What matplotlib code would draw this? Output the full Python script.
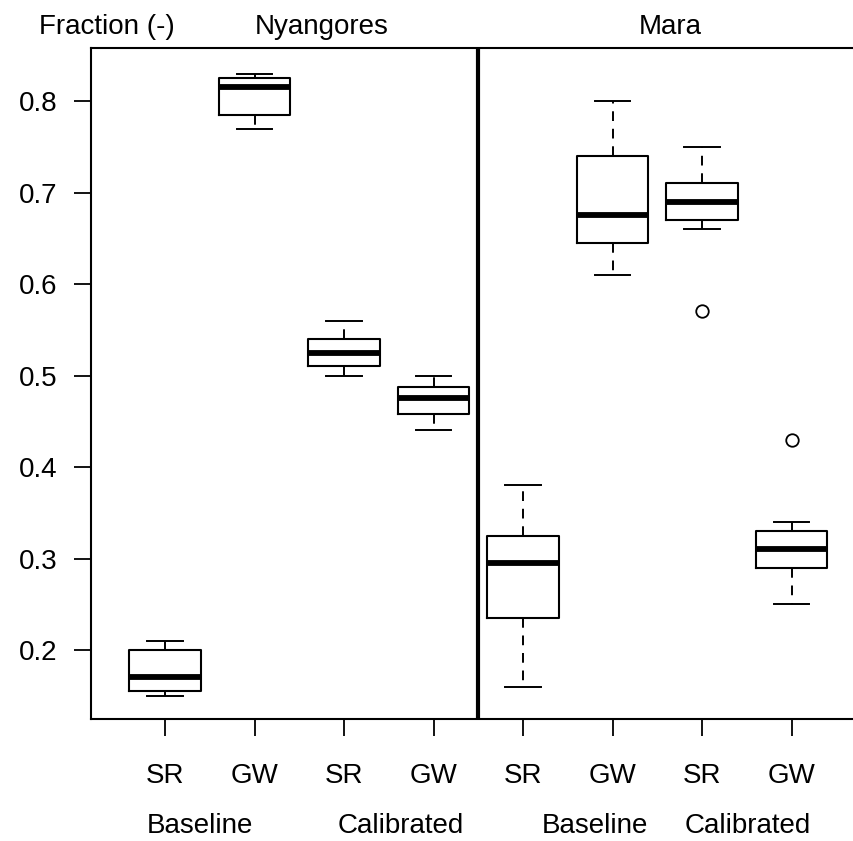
import matplotlib
matplotlib.use("Agg")
import matplotlib.pyplot as plt

plt.rcParams['font.family'] = ['Liberation Sans', 'DejaVu Sans']

# five-number summaries per box: low whisker, Q1, median, Q3, high whisker
tick_labels = ["SR", "GW", "SR", "GW", "SR", "GW", "SR", "GW"]
whisker_lo = [0.15, 0.77, 0.50, 0.44, 0.16, 0.61, 0.66, 0.25]
q1 = [0.155, 0.785, 0.51, 0.458, 0.235, 0.645, 0.67, 0.29]
medians = [0.17, 0.815, 0.525, 0.475, 0.295, 0.675, 0.69, 0.31]
q3 = [0.20, 0.825, 0.54, 0.488, 0.325, 0.74, 0.71, 0.33]
whisker_hi = [0.21, 0.83, 0.56, 0.50, 0.38, 0.80, 0.75, 0.34]
outliers = [[], [], [], [], [], [], [0.57], [0.43]]

catchments = ["Nyangores", "Mara"]
runs = ["Baseline", "Calibrated", "Baseline", "Calibrated"]

stats = []
for i in range(len(tick_labels)):
    stats.append(dict(whislo=whisker_lo[i], q1=q1[i], med=medians[i],
                      q3=q3[i], whishi=whisker_hi[i], fliers=outliers[i]))

positions = list(range(1, len(tick_labels) + 1))

fig = plt.figure(figsize=(8.54, 8.41), dpi=100)
ax = fig.add_axes([91 / 854, 1 - 719 / 841, 1 - 91 / 854 + 0.01, (719 - 48) / 841])

ax.bxp(stats, positions=positions, widths=0.8, capwidths=0.4,
       boxprops=dict(color="black", linewidth=1.5),
       medianprops=dict(color="black", linewidth=4.2, solid_capstyle="butt"),
       whiskerprops=dict(color="black", linewidth=1.4, linestyle=(0, (5, 4))),
       capprops=dict(color="black", linewidth=1.4),
       flierprops=dict(marker="o", markerfacecolor="none", markeredgecolor="black",
                       markersize=9, markeredgewidth=1.3))

# divider between the two catchments
ax.axvline(4.5, color="black", linewidth=3)

ax.set_xlim(0.173, 8.793)
ax.set_ylim(0.1246, 0.858)
ax.set_yticks([0.2, 0.3, 0.4, 0.5, 0.6, 0.7, 0.8])
ax.set_yticklabels(["0.2", "0.3", "0.4", "0.5", "0.6", "0.7", "0.8"])
ax.set_xticks(positions)
ax.set_xticklabels(tick_labels)
ax.tick_params(axis="both", direction="out", length=12, width=1.3,
               labelsize=20, color="black")
ax.tick_params(axis="x", pad=20)
ax.tick_params(axis="y", pad=12)
for s in ax.spines.values():
    s.set_linewidth(1.5)
ax.spines["right"].set_visible(False)

ax.text(0.35, 1.0 + 21 / 671, "Fraction (-)", transform=ax.get_xaxis_transform(),
        ha="center", va="center", fontsize=20)
ax.text(2.75, 1.0 + 21 / 671, catchments[0], transform=ax.get_xaxis_transform(),
        ha="center", va="center", fontsize=20)
ax.text(6.65, 1.0 + 21 / 671, catchments[1], transform=ax.get_xaxis_transform(),
        ha="center", va="center", fontsize=20)

for x, lab in zip([1.39, 3.63, 5.80, 7.51], runs):
    ax.text(x, -(826 - 719) / 671, lab, transform=ax.get_xaxis_transform(),
            ha="center", va="center", fontsize=20)

fig.savefig("out.png", dpi=100)
